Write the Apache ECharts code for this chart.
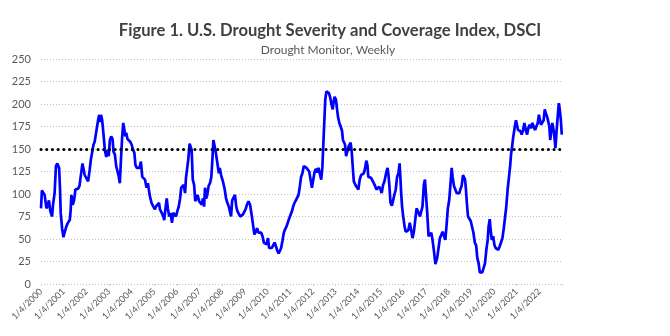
<!DOCTYPE html>
<html><head><meta charset="utf-8">
<script src="https://cdn.jsdelivr.net/npm/echarts@6/dist/echarts.min.js"></script>
<style>html,body{margin:0;padding:0;background:#fff}#c{width:670px;height:336px}</style>
</head><body><div id="c"></div>
<script>
// Decimal year of each reading
const dates = [
2000.00,2000.04,2000.12,2000.16,2000.24,2000.31,2000.35,2000.41,2000.49,2000.53,2000.60,2000.66,2000.72,2000.80,2000.84,2000.87,2000.93,2000.99,
2001.05,2001.12,2001.19,2001.27,2001.31,2001.34,2001.40,2001.46,2001.52,2001.58,2001.64,2001.70,2001.76,2001.83,2001.87,2001.93,
2002.01,2002.08,2002.15,2002.20,2002.27,2002.32,2002.37,2002.45,2002.52,2002.57,2002.61,2002.65,2002.70,2002.76,2002.82,2002.88,2002.94,2002.99,
2003.04,2003.10,2003.16,2003.20,2003.26,2003.32,2003.38,2003.42,2003.48,2003.53,2003.58,2003.63,2003.67,2003.72,2003.76,2003.82,2003.88,2003.94,
2004.00,2004.06,2004.12,2004.17,2004.23,2004.29,2004.35,2004.41,2004.47,2004.51,2004.59,2004.66,2004.72,2004.76,2004.81,2004.88,2004.96,
2005.03,2005.07,2005.13,2005.21,2005.25,2005.33,2005.40,2005.44,2005.49,2005.55,2005.60,2005.66,2005.72,2005.78,2005.84,2005.90,2005.96,
2006.02,2006.08,2006.14,2006.19,2006.25,2006.30,2006.36,2006.40,2006.46,2006.50,2006.56,2006.61,2006.65,2006.70,2006.76,2006.81,2006.87,2006.91,2006.98,
2007.04,2007.10,2007.14,2007.20,2007.24,2007.29,2007.34,2007.40,2007.46,2007.52,2007.57,2007.61,2007.65,2007.70,2007.76,2007.80,2007.85,2007.89,2007.95,
2008.01,2008.05,2008.11,2008.17,2008.23,2008.29,2008.35,2008.39,2008.44,2008.50,2008.56,2008.62,2008.67,2008.73,2008.79,2008.85,2008.91,2008.96,
2009.03,2009.09,2009.16,2009.23,2009.31,2009.37,2009.42,2009.48,2009.54,2009.60,2009.66,2009.72,2009.78,2009.84,2009.90,2009.96,
2010.02,2010.07,2010.13,2010.19,2010.25,2010.31,2010.37,2010.43,2010.49,2010.55,2010.60,2010.66,2010.72,2010.78,2010.84,2010.90,2010.96,
2011.02,2011.08,2011.13,2011.19,2011.25,2011.31,2011.37,2011.43,2011.48,2011.54,2011.60,2011.66,2011.72,2011.78,2011.84,2011.90,2011.96,
2012.02,2012.08,2012.14,2012.20,2012.25,2012.31,2012.37,2012.42,2012.46,2012.51,2012.55,2012.60,2012.65,2012.71,2012.77,2012.83,2012.88,2012.92,2012.96,
2013.02,2013.07,2013.11,2013.17,2013.23,2013.29,2013.33,2013.39,2013.42,2013.47,2013.52,2013.58,2013.63,2013.67,2013.72,2013.76,2013.81,2013.88,2013.95,
2014.01,2014.07,2014.13,2014.19,2014.25,2014.31,2014.36,2014.41,2014.45,2014.51,2014.57,2014.63,2014.69,2014.75,2014.81,2014.87,2014.93,2014.99,
2015.04,2015.10,2015.16,2015.21,2015.25,2015.30,2015.34,2015.38,2015.43,2015.49,2015.55,2015.60,2015.66,2015.72,2015.78,2015.83,2015.87,2015.90,2015.94,2015.99,
2016.05,2016.10,2016.16,2016.22,2016.28,2016.34,2016.40,2016.46,2016.52,2016.58,2016.62,2016.67,2016.73,2016.79,2016.84,2016.90,2016.95,2016.99,
2017.05,2017.11,2017.17,2017.23,2017.29,2017.35,2017.41,2017.45,2017.49,2017.55,2017.61,2017.67,2017.73,2017.79,2017.85,2017.90,2017.96,
2018.02,2018.08,2018.13,2018.17,2018.23,2018.29,2018.35,2018.41,2018.47,2018.51,2018.57,2018.63,2018.67,2018.72,2018.76,2018.80,2018.85,2018.91,2018.97,
2019.03,2019.09,2019.15,2019.21,2019.26,2019.32,2019.37,2019.42,2019.48,2019.54,2019.60,2019.66,2019.72,2019.76,2019.81,2019.85,2019.90,2019.96,
2020.02,2020.07,2020.13,2020.19,2020.25,2020.31,2020.37,2020.43,2020.49,2020.54,2020.60,2020.66,2020.71,2020.75,2020.80,2020.84,2020.88,2020.93,2020.97,
2021.02,2021.06,2021.10,2021.16,2021.22,2021.28,2021.34,2021.40,2021.46,2021.51,2021.57,2021.63,2021.69,2021.75,2021.81,2021.87,2021.93,2021.98,
2022.03,2022.07,2022.13,2022.19,2022.24,2022.28,2022.34,2022.38,2022.44,2022.48,2022.52,2022.57,2022.61,2022.65,2022.71,2022.75,2022.81,2022.86,2022.90,2022.95,2022.99
];
// DSCI value of each reading
const dsci = [
84,104,106,99,84,88,93,81,75,88,101,131,134,129,105,79,62,52,
58,64,68,71,82,99,88,93,105,107,106,109,107,134,132,121,
119,114,127,138,140,155,158,171,182,188,180,188,182,166,149,141,149,142,
160,164,161,147,144,131,129,121,112,138,162,179,173,164,168,161,162,158,
155,149,146,132,129,131,129,136,119,118,116,107,112,105,97,90,86,
83,86,88,90,83,79,75,71,83,95,84,75,79,68,79,81,75,
81,86,95,107,105,110,101,118,119,138,156,157,149,116,110,92,90,99,92,
93,88,95,86,107,95,99,109,112,119,140,160,162,149,147,132,123,129,121,
119,112,105,95,90,86,88,75,93,95,99,86,81,79,75,77,77,75,
83,88,92,88,75,64,55,58,62,57,58,57,53,46,46,44,
51,40,42,40,43,46,42,37,34,37,40,48,57,61,64,66,73,
77,81,86,90,93,95,99,109,119,123,131,129,129,127,125,116,107,
116,125,128,124,129,127,116,129,153,182,205,214,214,212,207,199,194,203,208,
205,194,186,179,175,170,160,162,155,142,147,153,155,157,146,131,114,110,108,
105,116,121,119,123,129,137,132,119,118,118,116,112,109,105,107,108,105,
101,110,114,112,125,129,121,109,90,87,88,99,105,119,123,134,116,101,86,75,
64,58,58,60,68,60,51,58,71,84,86,79,75,77,86,110,116,101,
79,53,51,57,48,36,22,21,29,40,51,51,58,57,49,64,84,
93,112,129,119,109,105,101,103,101,105,109,121,123,116,105,90,75,73,70,
68,57,46,43,29,23,13,15,13,14,23,38,49,64,72,60,49,53,
43,40,38,38,42,44,51,62,75,86,105,119,131,144,153,162,164,177,182,
180,171,170,170,166,171,179,171,166,173,177,173,179,177,171,170,179,188,
186,177,179,182,194,190,186,182,175,160,168,179,177,168,151,166,186,201,194,182,166
];
const xTickLabels = ['1/4/2000','1/4/2001','1/4/2002','1/4/2003','1/4/2004','1/4/2005','1/4/2006','1/4/2007','1/4/2008','1/4/2009','1/4/2010','1/4/2011','1/4/2012','1/4/2013','1/4/2014','1/4/2015','1/4/2016','1/4/2017','1/4/2018','1/4/2019','1/4/2020','1/4/2021','1/4/2022'];
const xStart = 2000, xEnd = 2023;
const yMin = 0, yMax = 250, yStep = 25;
const threshold = 150;
const titleText = 'Figure 1. U.S. Drought Severity and Coverage Index, DSCI';
const subtitleText = 'Drought Monitor, Weekly';

const chart = echarts.init(document.getElementById('c'), null, {renderer: 'canvas'});
chart.setOption({
  animation: false,
  backgroundColor: '#fff',
  graphic: [
    {type: 'text', x: 330, y: 31, style: {text: titleText, textAlign: 'center', textVerticalAlign: 'middle',
      font: 'bold 16.6px Lato', fill: '#404040'}},
    {type: 'text', x: 328, y: 50, style: {text: subtitleText, textAlign: 'center', textVerticalAlign: 'middle',
      font: '12px Lato', fill: '#595959'}}
  ],
  grid: {left: 41, right: 108, top: 59, bottom: 52},
  xAxis: {
    type: 'value', min: xStart, max: xEnd, interval: 1,
    axisLine: {show: false},
    axisTick: {show: true, length: 2, lineStyle: {color: '#d0d0d0'}},
    splitLine: {show: false},
    axisLabel: {rotate: 45, fontSize: 9, fontFamily: 'Lato', color: '#595959', margin: 6,
      formatter: v => xTickLabels[Math.round(v - xStart)] || ''}
  },
  yAxis: {
    type: 'value', min: yMin, max: yMax, interval: yStep,
    axisLine: {show: false}, axisTick: {show: false},
    axisLabel: {fontSize: 11, fontFamily: 'Lato', color: '#595959', margin: 10},
    splitLine: {show: true, lineStyle: {color: '#c0c0c0', type: [1, 2], width: 1}}
  },
  series: [{
    type: 'line',
    data: dates.map((d, i) => [d, dsci[i]]),
    showSymbol: false,
    lineStyle: {color: '#0000ff', width: 2.7},
    z: 3,
    markLine: {
      silent: true, symbol: 'none', label: {show: false},
      lineStyle: {color: '#000', width: 3, type: [0.1, 5.6], cap: 'round'},
      data: [{yAxis: threshold}]
    }
  }]
});
</script></body></html>
